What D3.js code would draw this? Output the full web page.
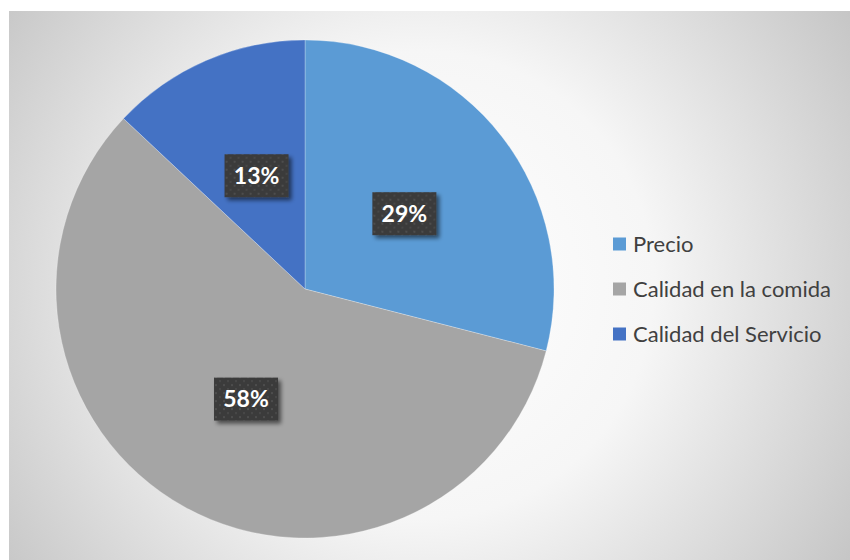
<!DOCTYPE html>
<html><head><meta charset="utf-8">
<script src="https://cdn.jsdelivr.net/npm/d3@7"></script>
<style>html,body{margin:0;padding:0;background:#fff;}svg{display:block;}</style>
</head><body>
<svg id="c" width="850" height="560"></svg>
<script>
const categories = ["Precio", "Calidad en la comida", "Calidad del Servicio"];
const values = [29, 58, 13];
const labels = ["29%", "58%", "13%"];
const colors = ["#5B9BD5", "#A5A5A5", "#4472C4"];

const svg = d3.select("#c");
const defs = svg.append("defs");
const rg = defs.append("radialGradient").attr("id","bg").attr("gradientUnits","userSpaceOnUse")
  .attr("cx",420).attr("cy",285).attr("r",520);
rg.append("stop").attr("offset","0%").attr("stop-color","#ffffff");
rg.append("stop").attr("offset","45%").attr("stop-color","#f6f6f6");
rg.append("stop").attr("offset","100%").attr("stop-color","#c4c4c4");

const pat = defs.append("pattern").attr("id","dots").attr("patternUnits","userSpaceOnUse")
  .attr("width",8).attr("height",8);
pat.append("rect").attr("width",8).attr("height",8).attr("fill","#3b3b3b");
pat.append("rect").attr("x",1).attr("y",1).attr("width",2).attr("height",2).attr("fill","#4e4e4e");
pat.append("rect").attr("x",5).attr("y",5).attr("width",2).attr("height",2).attr("fill","#474747");

const sh = defs.append("filter").attr("id","sh").attr("x","-20%").attr("y","-20%").attr("width","150%").attr("height","160%");
sh.append("feGaussianBlur").attr("in","SourceAlpha").attr("stdDeviation",2.2).attr("result","b");
sh.append("feOffset").attr("in","b").attr("dx",3).attr("dy",3).attr("result","o");
sh.append("feComponentTransfer").attr("in","o").attr("result","o2")
  .append("feFuncA").attr("type","linear").attr("slope",0.55);
const m = sh.append("feMerge");
m.append("feMergeNode").attr("in","o2");
m.append("feMergeNode").attr("in","SourceGraphic");

svg.append("rect").attr("x",9).attr("y",11).attr("width",841).attr("height",549).attr("fill","url(#bg)");

const cx = 305, cy = 289, R = 249;
const pie = d3.pie().sort(null).value(d => d)(values);
const arc = d3.arc().innerRadius(0).outerRadius(R);
const g = svg.append("g").attr("transform",`translate(${cx},${cy})`);
g.selectAll("path").data(pie).join("path")
  .attr("d",arc).attr("fill",(d,i)=>colors[i])
  .attr("stroke","#ffffff").attr("stroke-opacity",0.35).attr("stroke-width",0.75);

const lblR = [0.50, 0.50, 0.50];
const lg = g.selectAll("g.lbl").data(pie).join("g").attr("class","lbl")
  .attr("transform",(d,i)=>{
    const r = R*lblR[i];
    const c = d3.arc().innerRadius(r).outerRadius(r).centroid(d);
    return `translate(${c[0]+1},${c[1]+1})`;
  });
lg.append("rect").attr("x",-32).attr("y",-21.5).attr("width",64).attr("height",43)
  .attr("fill","url(#dots)").attr("filter","url(#sh)");
lg.append("text").attr("text-anchor","middle").attr("dy","0.36em")
  .attr("fill","#fff").attr("font-family","Lato, 'Open Sans', sans-serif")
  .attr("font-weight","bold").attr("font-size",23).text((d,i)=>labels[i]);

const leg = svg.append("g");
const ly = [244, 289, 334];
const items = leg.selectAll("g").data(categories).join("g")
  .attr("transform",(d,i)=>`translate(613,${ly[i]})`);
items.append("rect").attr("x",0).attr("y",-6.5).attr("width",13).attr("height",13).attr("fill",(d,i)=>colors[i]);
items.append("text").attr("x",20).attr("dy","0.35em")
  .attr("fill","#404040").attr("font-family","Lato, 'Open Sans', sans-serif").attr("font-size",22)
  .text(d=>d);
</script>
</body></html>
